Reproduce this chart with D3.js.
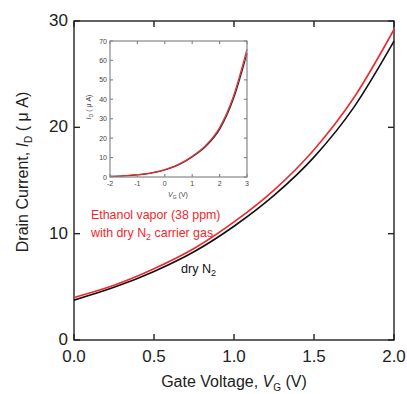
<!DOCTYPE html>
<html>
<head>
<meta charset="utf-8">
<script src="https://cdn.jsdelivr.net/npm/d3@7"></script>
<style>
  body { margin: 0; background: #fff; }
  svg { font-family: "Liberation Sans", Arial, sans-serif; }
</style>
</head>
<body>
<svg id="chart" width="407" height="394"></svg>
<script>
// main panel data
const gateVoltage = [0, 0.25, 0.5, 0.75, 1.0, 1.25, 1.5, 1.75, 2.0];
const drainDryN2 = [3.75, 4.95, 6.45, 8.3, 10.7, 13.6, 17.2, 21.9, 28.1];
const drainEthanol = [4.0, 5.15, 6.7, 8.6, 11.1, 14.1, 17.9, 22.8, 29.2];
const xTicks = [0, 0.5, 1.0, 1.5, 2.0];
const yTicks = [0, 10, 20, 30];

// inset data
const insetVoltage = [-2, -1.5, -1, -0.5, 0, 0.5, 1, 1.5, 2, 2.5, 3];
const insetDryN2 = [0.3, 0.6, 1.1, 2.0, 3.6, 6.2, 10.3, 15.8, 24.5, 40, 63.6];
const insetEthanol = [0.35, 0.65, 1.2, 2.1, 3.8, 6.5, 10.7, 16.4, 25.5, 41.5, 65.8];
const insetXTicks = [-2, -1, 0, 1, 2, 3];
const insetYTicks = [0, 10, 20, 30, 40, 50, 60, 70];

const svg = d3.select('#chart');

const margin = { top: 21, right: 13, bottom: 54, left: 74 };
const width = 407 - margin.left - margin.right;
const height = 394 - margin.top - margin.bottom;

const g = svg
  .append('g')
  .attr('transform', `translate(${margin.left},${margin.top})`);

const x = d3.scaleLinear().domain([0, 2]).range([0, width]);
const y = d3.scaleLinear().domain([0, 30]).range([height, 0]);

//
// FRAME + TICKS
//

function frameTicks(grp, xs, ys, xv, yv, len, color, sw) {
  grp.append('rect')
    .attr('x', 0).attr('y', 0)
    .attr('width', xs.range()[1]).attr('height', ys.range()[0])
    .attr('fill', 'none').attr('stroke', color).attr('stroke-width', sw);
  const h = ys.range()[0];
  const w = xs.range()[1];
  xv.forEach((v) => {
    grp.append('line').attr('x1', xs(v)).attr('x2', xs(v)).attr('y1', h).attr('y2', h - len)
      .attr('stroke', color).attr('stroke-width', sw);
    grp.append('line').attr('x1', xs(v)).attr('x2', xs(v)).attr('y1', 0).attr('y2', len)
      .attr('stroke', color).attr('stroke-width', sw);
  });
  yv.forEach((v) => {
    grp.append('line').attr('x1', 0).attr('x2', len).attr('y1', ys(v)).attr('y2', ys(v))
      .attr('stroke', color).attr('stroke-width', sw);
    grp.append('line').attr('x1', w).attr('x2', w - len).attr('y1', ys(v)).attr('y2', ys(v))
      .attr('stroke', color).attr('stroke-width', sw);
  });
}

frameTicks(g, x, y, xTicks, yTicks, 6, '#222', 1.4);

g.selectAll('.xl').data(xTicks).enter().append('text')
  .attr('x', (d) => x(d)).attr('y', height + 22)
  .attr('text-anchor', 'middle').attr('font-size', 17).attr('fill', '#222')
  .text((d) => d.toFixed(1));

g.selectAll('.yl').data(yTicks).enter().append('text')
  .attr('x', -6).attr('y', (d) => y(d) + 5)
  .attr('text-anchor', 'end').attr('font-size', 17).attr('fill', '#222')
  .text((d) => d);

// axis titles
const xt = svg.append('text')
  .attr('x', 234).attr('y', 387)
  .attr('text-anchor', 'middle').attr('font-size', 16).attr('fill', '#222');
xt.append('tspan').text('Gate Voltage, ');
xt.append('tspan').attr('font-style', 'italic').text('V');
xt.append('tspan').attr('font-size', 10).attr('dy', 4).text('G');
xt.append('tspan').attr('dy', -4).text(' (V)');

const yt = svg.append('text')
  .attr('transform', 'translate(28,172) rotate(-90)')
  .attr('text-anchor', 'middle').attr('font-size', 16).attr('fill', '#222');
yt.append('tspan').text('Drain Current, ');
yt.append('tspan').attr('font-style', 'italic').text('I');
yt.append('tspan').attr('font-size', 10).attr('dy', 4).text('D');
yt.append('tspan').attr('dy', -4).text(' ( μ A)');

//
// CURVES
//

const line = d3.line()
  .curve(d3.curveMonotoneX)
  .x((d) => x(d[0]))
  .y((d) => y(d[1]));

g.append('path')
  .datum(d3.zip(gateVoltage, drainDryN2))
  .attr('fill', 'none').attr('stroke', '#111').attr('stroke-width', 1.6)
  .attr('d', line);

g.append('path')
  .datum(d3.zip(gateVoltage, drainEthanol))
  .attr('fill', 'none').attr('stroke', '#f0282d').attr('stroke-width', 1.6)
  .attr('d', line);

// annotations
const ann = g.append('text').attr('font-size', 12.4).attr('fill', '#f0282d');
ann.append('tspan').attr('x', 17).attr('y', 198).text('Ethanol vapor (38 ppm)');
const l2 = ann.append('tspan').attr('x', 17).attr('y', 216);
l2.append('tspan').text('with dry N');
l2.append('tspan').attr('font-size', 9).attr('dy', 3).text('2');
l2.append('tspan').attr('dy', -3).text(' carrier gas');

const dry = g.append('text').attr('x', 107).attr('y', 252).attr('font-size', 12.6).attr('fill', '#111');
dry.append('tspan').text('dry N');
dry.append('tspan').attr('font-size', 9).attr('dy', 3).text('2');

//
// INSET
//

const inset = svg.append('g').attr('transform', 'translate(110,41)');
const ix = d3.scaleLinear().domain([-2, 3]).range([0, 137]);
const iy = d3.scaleLinear().domain([0, 70]).range([136, 0]);

const iline = d3.line()
  .curve(d3.curveMonotoneX)
  .x((d) => ix(d[0]))
  .y((d) => iy(d[1]));

inset.append('path')
  .datum(d3.zip(insetVoltage, insetDryN2))
  .attr('fill', 'none').attr('stroke', '#333').attr('stroke-width', 1.2)
  .attr('d', iline);

inset.append('path')
  .datum(d3.zip(insetVoltage, insetEthanol))
  .attr('fill', 'none').attr('stroke', '#f0282d').attr('stroke-width', 1.2)
  .attr('d', iline);

frameTicks(inset, ix, iy, insetXTicks, insetYTicks, 3, '#888', 1.2);

inset.selectAll('.ixl').data(insetXTicks).enter().append('text')
  .attr('x', (d) => ix(d)).attr('y', 145)
  .attr('text-anchor', 'middle').attr('font-size', 7).attr('fill', '#444')
  .text((d) => d);

inset.selectAll('.iyl').data(insetYTicks).enter().append('text')
  .attr('x', -3).attr('y', (d) => iy(d) + 2.5)
  .attr('text-anchor', 'end').attr('font-size', 7).attr('fill', '#444')
  .text((d) => d);

const ixt = inset.append('text')
  .attr('x', 68).attr('y', 156)
  .attr('text-anchor', 'middle').attr('font-size', 7).attr('fill', '#444');
ixt.append('tspan').attr('font-style', 'italic').text('V');
ixt.append('tspan').attr('font-size', 5).attr('dy', 2).text('G');
ixt.append('tspan').attr('dy', -2).text(' (V)');

const iyt = inset.append('text')
  .attr('transform', 'translate(-19,66) rotate(-90)')
  .attr('text-anchor', 'middle').attr('font-size', 7).attr('fill', '#444');
iyt.append('tspan').attr('font-style', 'italic').text('I');
iyt.append('tspan').attr('font-size', 5).attr('dy', 2).text('D');
iyt.append('tspan').attr('dy', -2).text(' ( μ A)');
</script>
</body>
</html>
